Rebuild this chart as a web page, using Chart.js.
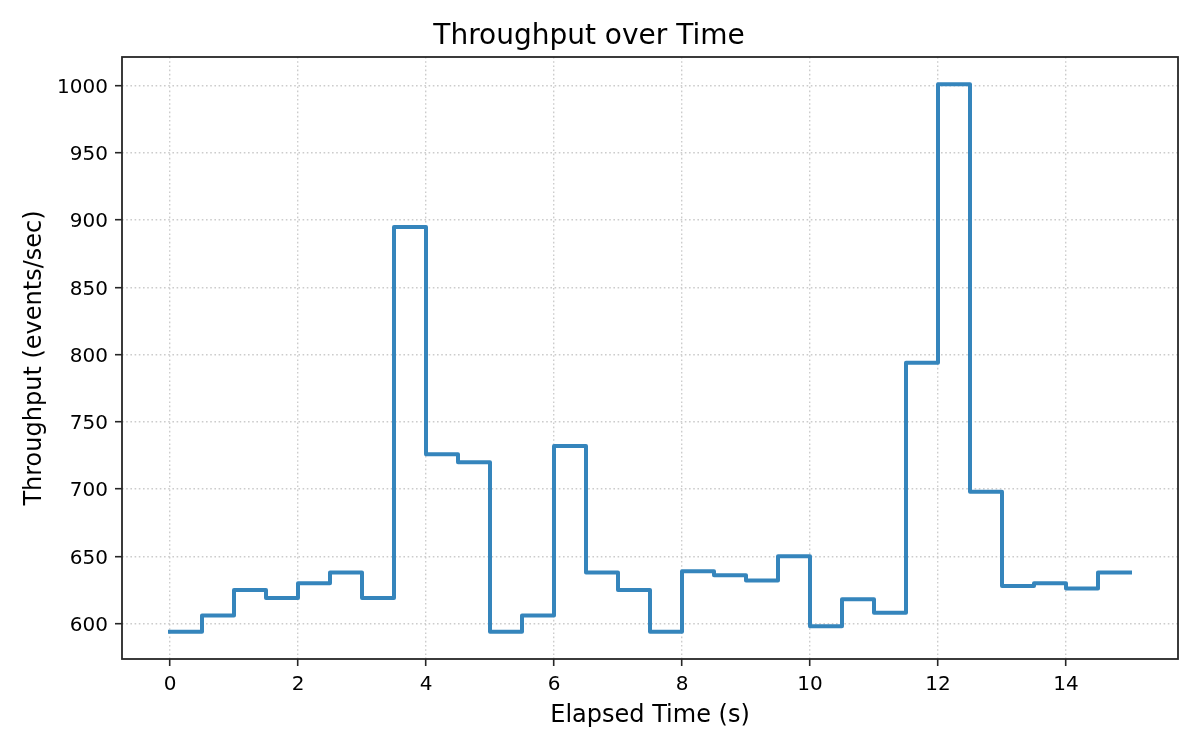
<!DOCTYPE html>
<html>
<head>
<meta charset="utf-8">
<script src="https://cdn.jsdelivr.net/npm/chart.js@4/dist/chart.umd.min.js"></script>
<style>
  html, body { margin: 0; padding: 0; background: #ffffff; }
  #wrap { width: 1200px; height: 750px; }
</style>
</head>
<body>
<div id="wrap"><canvas id="c" width="1200" height="750"></canvas></div>
<script>
// ---- data ----
const elapsedTime = [0, 0.5, 1, 1.5, 2, 2.5, 3, 3.5, 4, 4.5, 5, 5.5, 6, 6.5, 7, 7.5,
                     8, 8.5, 9, 9.5, 10, 10.5, 11, 11.5, 12, 12.5, 13, 13.5, 14, 14.5, 15];
const throughput = [594, 606, 625, 619, 630, 638, 619, 895, 726, 720, 594, 606, 732, 638, 625, 594,
                    639, 636, 632, 650, 598, 618, 608, 794, 1001, 698, 628, 630, 626, 638, 638];
const xTickValues = [0, 2, 4, 6, 8, 10, 12, 14];
const yTickValues = [600, 650, 700, 750, 800, 850, 900, 950, 1000];
const chartTitle = 'Throughput over Time';
const xAxisTitle = 'Elapsed Time (s)';
const yAxisTitle = 'Throughput (events/sec)';

const points = elapsedTime.map((t, i) => ({ x: t, y: throughput[i] }));

const FONT = "'DejaVu Sans', 'Liberation Sans', sans-serif";

const framePlugin = {
  id: 'frame',
  afterDraw(chart) {
    const { ctx, chartArea: a } = chart;
    ctx.save();
    ctx.strokeStyle = '#262626';
    ctx.lineWidth = 1.8;
    ctx.strokeRect(a.left, a.top, a.right - a.left, a.bottom - a.top);
    ctx.restore();
  }
};

new Chart(document.getElementById('c'), {
  type: 'line',
  data: {
    datasets: [{
      data: points,
      stepped: 'before',
      borderColor: '#3585bc',
      borderWidth: 4,
      borderCapStyle: 'square',
      borderJoinStyle: 'round',
      pointRadius: 0,
      fill: false,
      tension: 0
    }]
  },
  options: {
    responsive: false,
    animation: false,
    devicePixelRatio: 1,
    layout: { padding: { left: 0, right: 22, top: 0, bottom: 0 } },
    plugins: {
      legend: { display: false },
      tooltip: { enabled: false },
      title: {
        display: true,
        text: chartTitle,
        color: '#000000',
        font: { family: FONT, size: 28, weight: 'normal', lineHeight: 1.2 },
        padding: { top: 20, bottom: 3.4 }
      }
    },
    scales: {
      x: {
        type: 'linear',
        min: -0.75,
        max: 15.75,
        afterBuildTicks: (scale) => { scale.ticks = xTickValues.map(v => ({ value: v })); },
        afterFit: (scale) => { scale.height = 91; },
        ticks: {
          color: '#000000',
          font: { family: FONT, size: 20 },
          padding: 7,
          maxRotation: 0,
          autoSkip: false,
          callback: (v) => String(v)
        },
        grid: {
          color: '#cccccc',
          lineWidth: 1.4,
          drawTicks: true,
          tickLength: 7,
          tickColor: '#262626',
          tickWidth: 1.6
        },
        border: { display: false, dash: [1.6, 2.6] },
        title: {
          display: true,
          text: xAxisTitle,
          color: '#000000',
          font: { family: FONT, size: 24, weight: 'normal', lineHeight: 1.2 },
          padding: { top: 0, bottom: 20 }
        }
      },
      y: {
        type: 'linear',
        min: 573.65,
        max: 1021.35,
        afterBuildTicks: (scale) => { scale.ticks = yTickValues.map(v => ({ value: v })); },
        afterFit: (scale) => { scale.width = 122; },
        ticks: {
          color: '#000000',
          font: { family: FONT, size: 20 },
          padding: 7,
          labelOffset: 2,
          autoSkip: false,
          callback: (v) => String(v)
        },
        grid: {
          color: '#cccccc',
          lineWidth: 1.4,
          drawTicks: true,
          tickLength: 7,
          tickColor: '#262626',
          tickWidth: 1.6
        },
        border: { display: false, dash: [1.6, 2.6] },
        title: {
          display: true,
          text: yAxisTitle,
          color: '#000000',
          font: { family: FONT, size: 24, weight: 'normal', lineHeight: 1.2 },
          padding: { top: 20, bottom: 0 }
        }
      }
    }
  },
  plugins: [framePlugin]
});
</script>
</body>
</html>
